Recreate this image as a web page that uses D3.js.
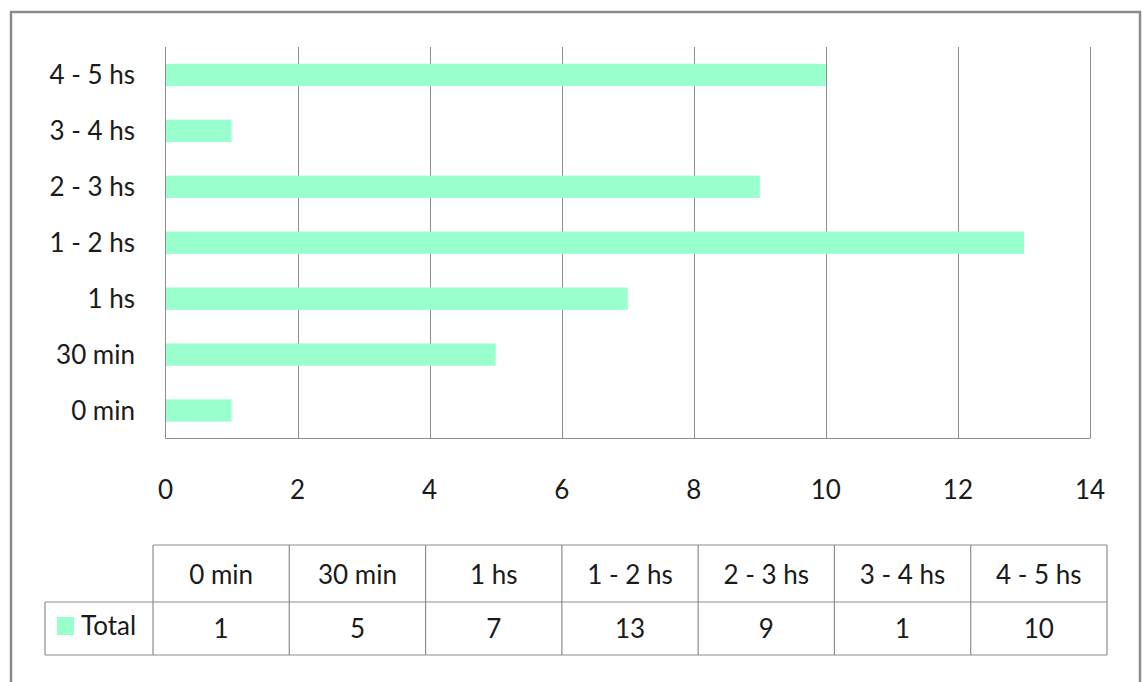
<!DOCTYPE html>
<html>
<head>
<meta charset="utf-8">
<script src="https://cdn.jsdelivr.net/npm/d3@7"></script>
<style>
  html, body { margin: 0; padding: 0; background: #fff; }
  svg { display: block; }
  text { font-family: Lato, "Noto Sans", sans-serif; fill: #1a1a1a; }
</style>
</head>
<body>
<svg id="chart" width="1142" height="682"></svg>
<script>
// Time spent categories (bottom to top in the chart)
const categories = ["0 min", "30 min", "1 hs", "1 - 2 hs", "2 - 3 hs", "3 - 4 hs", "4 - 5 hs"];
const totals = [1, 5, 7, 13, 9, 1, 10];
const seriesName = "Total";
const xTicks = [0, 2, 4, 6, 8, 10, 12, 14];

const barColor = "#99ffcc";
const lineColor = "#8c8c8c";
const fontSize = 26;

const svg = d3.select("#chart");

// Outer frame
svg.append("rect")
  .attr("x", 11).attr("y", 12).attr("width", 1129).attr("height", 690)
  .attr("fill", "none").attr("stroke", "#8a8a8a").attr("stroke-width", 2.5);

const plot = { left: 165.5, right: 1090, top: 47, bottom: 438.5 };

const x = d3.scaleLinear().domain([0, 14]).range([plot.left, plot.right]);
const y = d3.scaleBand()
  .domain(categories.slice().reverse())
  .range([plot.top, plot.bottom])
  .paddingInner(0.6).paddingOuter(0.3);

// Vertical gridlines
svg.append("g")
  .selectAll("line")
  .data(xTicks.slice(1))
  .join("line")
  .attr("x1", d => Math.round(x(d)) + 0.5)
  .attr("x2", d => Math.round(x(d)) + 0.5)
  .attr("y1", plot.top).attr("y2", plot.bottom)
  .attr("stroke", lineColor).attr("stroke-width", 1);

// Bars
svg.append("g")
  .selectAll("rect")
  .data(categories.map((c, i) => ({ c, v: totals[i] })))
  .join("rect")
  .attr("x", x(0))
  .attr("y", d => y(d.c))
  .attr("width", d => x(d.v) - x(0))
  .attr("height", y.bandwidth())
  .attr("fill", barColor);

// Axis lines (left and bottom)
svg.append("line")
  .attr("x1", plot.left).attr("x2", plot.left)
  .attr("y1", plot.top).attr("y2", plot.bottom)
  .attr("stroke", lineColor);
svg.append("line")
  .attr("x1", plot.left).attr("x2", plot.right)
  .attr("y1", plot.bottom).attr("y2", plot.bottom)
  .attr("stroke", lineColor);

// Category labels
svg.append("g")
  .selectAll("text")
  .data(categories)
  .join("text")
  .attr("x", 135)
  .attr("y", d => y(d) + y.bandwidth() / 2)
  .attr("dy", "0.35em")
  .attr("text-anchor", "end")
  .attr("font-size", fontSize)
  .text(d => d);

// Value axis tick labels
svg.append("g")
  .selectAll("text")
  .data(xTicks)
  .join("text")
  .attr("x", d => x(d))
  .attr("y", 489.5)
  .attr("dy", "0.35em")
  .attr("text-anchor", "middle")
  .attr("font-size", fontSize)
  .text(d => d);

// Data table below the chart
const tbl = { left: 153, right: 1107, rowTop: 545, rowMid: 602, rowBot: 655, legendLeft: 45 };
const col = d3.scaleBand().domain(categories).range([tbl.left, tbl.right]);
const tg = svg.append("g").attr("stroke", lineColor).attr("stroke-width", 1.2).attr("fill", "none");

tg.append("line").attr("x1", tbl.left).attr("x2", tbl.right).attr("y1", tbl.rowTop).attr("y2", tbl.rowTop);
tg.append("line").attr("x1", tbl.legendLeft).attr("x2", tbl.right).attr("y1", tbl.rowMid).attr("y2", tbl.rowMid);
tg.append("line").attr("x1", tbl.legendLeft).attr("x2", tbl.right).attr("y1", tbl.rowBot).attr("y2", tbl.rowBot);
tg.append("line").attr("x1", tbl.legendLeft).attr("x2", tbl.legendLeft).attr("y1", tbl.rowMid).attr("y2", tbl.rowBot);
tg.selectAll("line.v")
  .data(categories.map(c => col(c)).concat([tbl.right]))
  .join("line")
  .attr("class", "v")
  .attr("x1", d => d).attr("x2", d => d)
  .attr("y1", tbl.rowTop).attr("y2", tbl.rowBot);

svg.append("g")
  .selectAll("text")
  .data(categories)
  .join("text")
  .attr("x", d => col(d) + col.bandwidth() / 2)
  .attr("y", 574.5)
  .attr("dy", "0.35em")
  .attr("text-anchor", "middle")
  .attr("font-size", fontSize)
  .text(d => d);

svg.append("g")
  .selectAll("text")
  .data(categories.map((c, i) => ({ c, v: totals[i] })))
  .join("text")
  .attr("x", d => col(d.c) + col.bandwidth() / 2)
  .attr("y", 628.5)
  .attr("dy", "0.35em")
  .attr("text-anchor", "middle")
  .attr("font-size", fontSize)
  .text(d => d.v);

// Legend key in the table
svg.append("rect")
  .attr("x", 57).attr("y", 617).attr("width", 17).attr("height", 18)
  .attr("fill", barColor);
svg.append("text")
  .attr("x", 81).attr("y", 626)
  .attr("dy", "0.35em")
  .attr("font-size", fontSize)
  .text(seriesName);
</script>
</body>
</html>
